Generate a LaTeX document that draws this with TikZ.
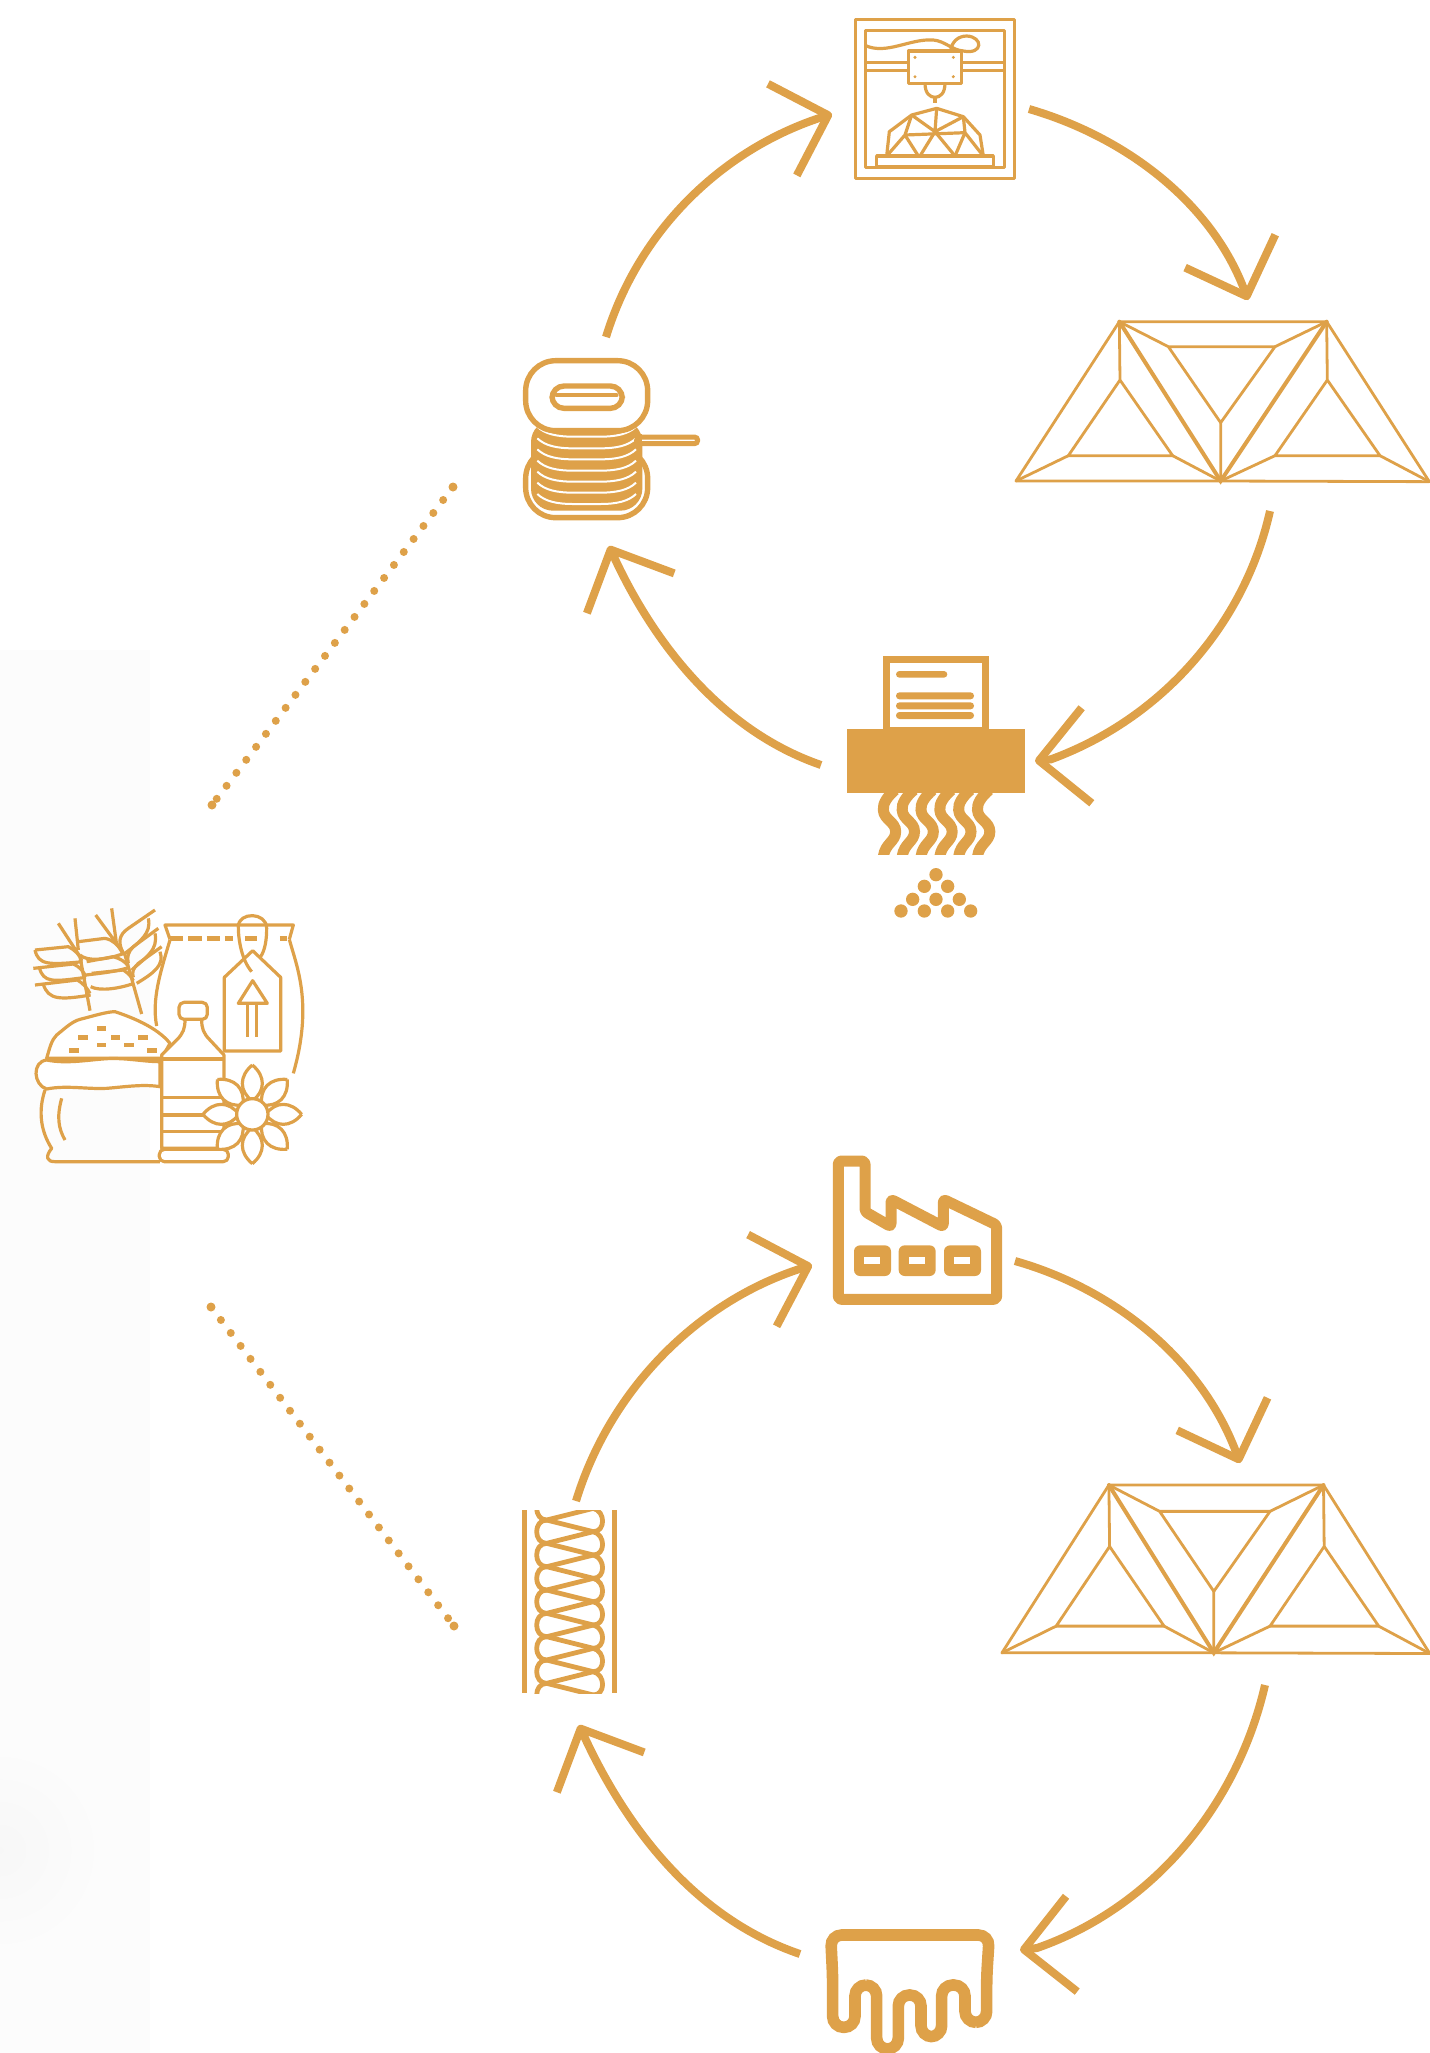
\documentclass[tikz,border=0pt]{standalone}
\usepackage{tikz}
\usepackage{xcolor}
\usetikzlibrary{arrows.meta}
\definecolor{fibregold}{HTML}{DEA149}
\tikzset{
  flow/.style={draw=fibregold, line width=4pt, -{Straight Barb[length=24pt,width=48pt,line join=round]}},
  seeds/.style={draw=fibregold, line width=4pt, line cap=round, dash pattern=on 0pt off 8.15pt},
  thinline/.style={draw=fibregold, line width=1.6pt, line join=round},
  trussline/.style={draw=fibregold, line width=1.4pt, line join=round, line cap=round},
  trussheavy/.style={draw=fibregold, line width=2pt, line cap=round},
  filledgold/.style={fill=fibregold, draw=none},
}
\newcommand{\trussicon}[1]{
  \begin{scope}[#1]
    \coordinate (tl) at (358,65);
    \coordinate (tr) at (980,65);
    \coordinate (bl) at (48,543);
    \coordinate (bm) at (662,543);
    \coordinate (br) at (1288,545);
    \draw[trussline] (bl) -- (tl) -- (tr) -- (br) -- (bm) -- (bl);
    \draw[trussheavy] (tl) -- (bm) -- (tr);
    \draw[trussline] (tl) -- (360,240) -- (205,467) -- (518,467) -- (360,240);
    \draw[trussline] (bl) -- (205,467) (bm) -- (518,467);
    \draw[trussline] (tl) -- (505,140) -- (825,140) -- (662,368) -- (505,140);
    \draw[trussline] (tr) -- (825,140) (662,368) -- (bm);
    \draw[trussline] (tr) -- (982,240) -- (825,467) -- (1140,467) -- (982,240);
    \draw[trussline] (bm) -- (825,467) (br) -- (1140,467);
  \end{scope}
}
\begin{document}
\begin{tikzpicture}[x=0.5pt,y=-0.5pt]
  \useasboundingbox (0,0) rectangle (1430,2053);
  % faint backdrop on the left
  \fill[black!1] (0,650) rectangle (150,2053);
  \shade[inner color=black!3,outer color=black!1] (0,1850) circle (115);

  % printer
  \begin{scope}[shift={(820,0)},scale=1/3]
    \draw[thinline,line width=1.5pt] (105,57) rectangle (583,535);
    \draw[thinline,line width=1.5pt] (135,90) rectangle (552,503);
    \draw[thinline] (135,188) -- (262,188) (135,212) -- (262,212);
    \draw[thinline] (425,188) -- (552,188) (425,212) -- (552,212);
    \draw[thinline] (265,153) rectangle (425,250);
    \foreach \px/\py in {285/172,400/172,285/230,400/230}
      \fill[fibregold] (\px,\py) circle (5);
    \draw[thinline] (137,137) .. controls (200,165) and (270,115) .. (340,120) .. controls (375,123) and (395,150) .. (430,153) .. controls (490,165) and (490,110) .. (440,108) .. controls (415,108) and (395,125) .. (392,152);
    \draw[thinline] (315,250) .. controls (315,280) and (330,292) .. (345,292) .. controls (360,292) and (375,280) .. (375,250);
    \draw[thinline] (345,292) -- (345,308);
    \draw[thinline] (170,468) rectangle (520,500);
    \draw[thinline] (200,468) -- (208,395) -- (275,345) -- (350,325) -- (430,350) -- (480,405) -- (490,468);
    \draw[thinline] (255,405) -- (435,398);
    \draw[thinline] (275,345) -- (255,405) -- (200,468) (255,405) -- (295,468);
    \draw[thinline] (430,350) -- (435,398) -- (490,468) (435,398) -- (405,468);
    \draw[thinline] (350,325) -- (345,395) (275,345) -- (345,395) -- (430,350);
    \draw[thinline] (300,468) -- (345,395) -- (405,468);
  \end{scope}

  \trussicon{shift={(1000,300)},scale=1/3}
  \trussicon{shift={(985.4,1462.2)},xscale=.345,yscale=.351}

  % spool
  \begin{scope}[shift={(500,340)},scale=1/3]
    \draw[fibregold,line width=2.7pt,fill=white,rounded corners=15pt] (77,325) rectangle (443,533);
    \fill[fibregold,rounded corners=11pt] (93,240) rectangle (427,512);
    \foreach \cy in {290,325,358,392,425,458,492}
      \draw[white,line width=1pt] (112,\cy-30) .. controls (135,\cy-8) and (170,\cy) .. (220,\cy) -- (300,\cy) .. controls (350,\cy) and (385,\cy-8) .. (408,\cy-30);
    \draw[fibregold,line width=2.5pt,fill=white,rounded corners=1.6pt] (410,291) rectangle (593,311);
    \fill[fibregold] (412,283) rectangle (427,320);
    \draw[fibregold,line width=2.7pt,fill=white,rounded corners=15pt] (77,62) rectangle (443,272);
    \draw[fibregold,line width=2.7pt,rounded corners=6pt] (156,138) rectangle (367,205);
    \draw[fibregold,line width=2pt,line cap=round] (170,166) -- (350,166);
  \end{scope}

  % shredder
  \begin{scope}[shift={(830,640)},scale=1/3]
    \begin{scope}
      \clip (100,440) rectangle (520,642);
      \foreach \sx in {0,56.5,113,169.5,226,282.5}
        \draw[fibregold,line width=5.5pt] (\sx+195,450) .. controls (\sx+172,470) and (\sx+158,490) .. (\sx+160,510) .. controls (\sx+162,540) and (\sx+197,545) .. (\sx+197,575) .. controls (\sx+197,605) and (\sx+165,610) .. (\sx+160,650);
    \end{scope}
    \filldraw[fill=white,draw=fibregold,line width=3.3pt] (170,58) rectangle (466,270);
    \fill[filledgold] (50,267) rectangle (585,458);
    \fill[filledgold,rounded corners=1.7pt] (198,93) rectangle (352,113);
    \foreach \ly in {157,187,216}
      \fill[filledgold,rounded corners=1.7pt] (198,\ly) rectangle (432,\ly+21);
    \foreach \dx/\dy in {318/704,283/739,353/739,248/778,318/778,388/778,213/813,283/813,353/813,422/813}
      \fill[fibregold] (\dx,\dy) circle (20);
  \end{scope}

  % factory
  \begin{scope}[shift={(810,1140)},scale=1/3]
    \draw[fibregold,line width=5.5pt,line join=round,rounded corners=1.5pt] (85,63) -- (165,63) -- (165,215) -- (243,260) -- (243,178) -- (400,260) -- (400,178) -- (560,255) -- (560,478) -- (85,478) -- cycle;
    \foreach \wx in {132,266,402}{
      \fill[fibregold,rounded corners=3pt] (\wx,316) rectangle (\wx+111,408);
      \fill[white] (\wx+31,352) rectangle (\wx+78,373);
    }
  \end{scope}

  % drip
  \begin{scope}[shift={(810,1900)},scale=1/3]
    \draw[fibregold,line width=5.8pt,rounded corners=5.5pt] (68,230) -- (68,382) -- (135,382) -- (135,255) -- (200,255) -- (200,447) -- (265,447) -- (265,285) -- (333,285) -- (333,410) -- (395,410) -- (395,255) -- (465,255) -- (465,367) -- (530,367) -- (530,230) -- (538,105) -- (62,105) -- cycle;
  \end{scope}

  % insulation
  \begin{scope}[shift={(510,1490)},scale=1/3]
    \fill[filledgold] (36,60) rectangle (50,610);
    \fill[filledgold] (305,60) rectangle (320,610);
    \clip (50,60) rectangle (305,610);
    \foreach \i in {-2,...,7}{
      \pgfmathsetmacro{\yo}{90+70*\i}
      \draw[thinline,line width=2.4pt] (110,\yo) -- (250,\yo+35) .. controls (287,\yo+44) and (287,\yo+105) .. (250,\yo+105) -- (110,\yo+140) .. controls (70,\yo+140) and (70,\yo+70) .. (110,\yo+70);
    }
  \end{scope}

  % raw materials
  \begin{scope}[shift={(0,890)},scale=1/3]
    % bag
    \draw[thinline] (510,148) -- (495,105) -- (880,105) -- (868,148);
    \foreach \ga/\gb in {510/550,565/605,620/660,675/698,735/772,840/862}
      \draw[thinline,line width=2.2pt] (\ga,145) -- (\gb,145);
    \draw[thinline] (510,150) .. controls (480,250) and (455,330) .. (470,408);
    \draw[thinline] (868,148) .. controls (890,230) and (940,340) .. (880,550);
    % tag
    \draw[thinline,fill=white] (673,262) -- (758,182) -- (842,262) -- (842,483) -- (673,483) -- cycle;
    \draw[thinline] (715,340) -- (758,272) -- (802,340) -- cycle;
    \draw[thinline] (742,340) -- (742,440) (770,340) -- (770,440);
    \draw[thinline] (755,245) .. controls (725,210) and (715,150) .. (715,110) .. controls (715,65) and (800,65) .. (800,115) .. controls (800,150) and (795,180) .. (782,200);
    % wheat
    \draw[thinline] (287,75) -- (375,195) -- (425,372) (335,55) -- (350,165);
    \draw[thinline] (175,100) -- (240,200) -- (270,362) (225,85) -- (235,180);
    \draw[thinline] (465,60) -- (385,115) .. controls (355,135) and (355,160) .. (368,185);
    \draw[thinline] (445,85) .. controls (455,130) and (420,155) .. (375,190);
    \draw[thinline] (475,115) -- (400,170) .. controls (385,185) and (380,200) .. (385,220);
    \draw[thinline] (465,130) .. controls (475,180) and (440,200) .. (395,240);
    \draw[thinline] (485,170) -- (415,220) .. controls (400,235) and (395,245) .. (400,262);
    \draw[thinline] (480,185) .. controls (495,225) and (460,250) .. (410,280);
    \draw[thinline] (235,155) -- (315,145) .. controls (340,150) and (355,165) .. (368,190);
    \draw[thinline] (240,195) .. controls (260,215) and (320,210) .. (372,190);
    \draw[thinline] (260,215) -- (340,200) .. controls (360,205) and (375,215) .. (385,228);
    \draw[thinline] (258,255) .. controls (300,250) and (350,245) .. (388,232);
    \draw[thinline] (275,250) -- (370,240) .. controls (385,250) and (395,260) .. (400,272);
    \draw[thinline] (272,290) .. controls (300,305) and (360,295) .. (402,280);
    \draw[thinline] (105,180) -- (205,170) .. controls (225,180) and (240,195) .. (245,212);
    \draw[thinline] (105,180) .. controls (115,225) and (145,225) .. (248,215);
    \draw[thinline] (100,235) -- (220,222) .. controls (240,230) and (250,245) .. (258,260);
    \draw[thinline] (118,232) .. controls (130,280) and (160,275) .. (258,262);
    \draw[thinline] (105,285) -- (232,270) .. controls (250,280) and (262,295) .. (270,310);
    \draw[thinline] (130,283) .. controls (145,330) and (180,330) .. (272,315);
    % sack
    \draw[thinline,fill=white] (140,505) .. controls (150,470) and (155,450) .. (170,435) .. controls (195,415) and (215,395) .. (240,388) .. controls (280,378) and (320,365) .. (345,365) .. controls (390,380) and (470,410) .. (510,460) -- (485,505) -- cycle;
    \foreach \mx/\my in {290/415,235/442,332/442,415/442,290/465,373/465,208/481,442/481}
      \fill[fibregold] (\mx,\my-7) rectangle (\mx+28,\my+7);
    \draw[thinline,fill=white] (140,510) .. controls (200,522) and (260,510) .. (320,506) .. controls (380,503) and (430,515) .. (480,515) -- (480,590) .. controls (430,582) and (380,590) .. (320,595) .. controls (260,598) and (200,585) .. (140,597) .. controls (100,585) and (95,515) .. (140,510);
    \draw[thinline] (135,600) .. controls (115,660) and (120,720) .. (155,775) .. controls (135,800) and (140,815) .. (165,815) -- (480,815);
    \draw[thinline] (185,625) .. controls (170,680) and (175,715) .. (195,750);
    % bottle
    \draw[thinline,fill=white] (485,775) -- (485,495) -- (530,450) .. controls (550,430) and (555,415) .. (555,388) -- (605,388) .. controls (605,415) and (610,430) .. (630,450) -- (672,495) -- (672,775) -- cycle;
    \draw[thinline,fill=white,rounded corners=2.5pt] (537,337) rectangle (622,388);
    \draw[thinline] (485,507) -- (672,507) (485,622) -- (672,622) (485,675) -- (672,675) (485,725) -- (672,725);
    \draw[thinline,fill=white,rounded corners=2.5pt] (478,778) rectangle (685,815);
    % flower
    \foreach \pa in {0,45,...,315}{
      \begin{scope}[shift={(757,673)},rotate=\pa]
        \draw[thinline,fill=white] (0,-148) .. controls (40,-115) and (40,-70) .. (0,-40) .. controls (-40,-70) and (-40,-115) .. (0,-148);
      \end{scope}
    }
    \draw[thinline,fill=white] (757,673) circle (47);
  \end{scope}

  % dotted links
  \coordinate (linkAtop) at (453,487);
  \coordinate (linkAend) at (212,805);
  \coordinate (linkBtop) at (211,1307);
  \coordinate (linkBend) at (454,1626);
  \draw[seeds] (linkAtop) -- (linkAend);
  \draw[seeds] (linkBtop) -- (linkBend);
  \foreach \dotend in {linkAtop,linkAend,linkBtop,linkBend}
    \fill[fibregold] (\dotend) circle (4.5);

  % upper loop
  \coordinate (a1) at (606,337);
  \coordinate (a2) at (832,114);
  \coordinate (b1) at (1029,109);
  \coordinate (b2) at (1248,300);
  \coordinate (c1) at (1270,511);
  \coordinate (c2) at (1035,761);
  \coordinate (c3) at (1051,759.3);
  \coordinate (d1) at (821,765);
  \coordinate (d2) at (609,546);
  \draw[flow] (a1) .. controls (639,229) and (724,148) .. (a2);
  \draw[flow] (b1) .. controls (1127,137.5) and (1213,204) .. (b2);
  \draw[flow] (c1) .. controls (1244.5,625) and (1161,719) .. (c3) -- (c2);
  \draw[flow] (d1) .. controls (721,730.5) and (653,642.5) .. (d2);

  % lower loop
  \coordinate (e1) at (576,1501);
  \coordinate (e2) at (812,1265);
  \coordinate (f1) at (1015,1261);
  \coordinate (f2) at (1240,1463);
  \coordinate (g1) at (1265,1685);
  \coordinate (g2) at (1020,1950);
  \coordinate (g3) at (1037,1948);
  \coordinate (h1) at (800,1954);
  \coordinate (h2) at (579,1725);
  \draw[flow] (e1) .. controls (610.5,1388) and (699.4,1300) .. (e2);
  \draw[flow] (f1) .. controls (1117.5,1290) and (1204,1363) .. (f2);
  \draw[flow] (g1) .. controls (1237.5,1805) and (1153,1907.5) .. (g3) -- (g2);
  \draw[flow] (h1) .. controls (694,1918) and (625,1826) .. (h2);
\end{tikzpicture}
\end{document}
